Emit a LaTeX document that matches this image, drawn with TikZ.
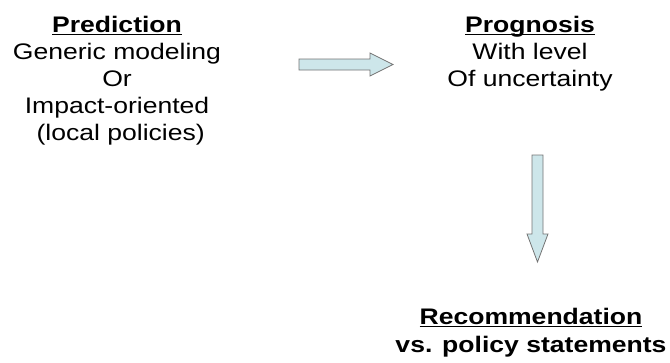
\documentclass[tikz,border=0pt]{standalone}
\usepackage{fontspec}
\setmainfont[FakeStretch=1.18]{Liberation Sans}
\newcommand{\ulbox}[1]{\underline{\raisebox{0pt}[\height][0pt]{#1}}}
\begin{document}
\begin{tikzpicture}[x=1pt,y=-1pt,
  blk/.style={align=center,inner sep=0pt,anchor=north,font=\fontsize{22.5}{27}\selectfont},
  blockarrow/.style={draw=black!55,fill=arrowfill,line width=0.8pt,line join=miter}]
\definecolor{arrowfill}{RGB}{205,230,234}
\useasboundingbox (0,0) rectangle (670,362);
\node[blk] (pred) at (117,16) {\textbf{\ulbox{Prediction}}\\Generic modeling\\Or\\Impact-oriented\\\ (local policies)};
\node[blk] (prog) at (530,16) {\textbf{\ulbox{Prognosis}}\\With level\\Of uncertainty};
\node[blk,font=\fontsize{22.5}{28}\selectfont] (rec) at (531,308) {\textbf{\ulbox{Recommendation}}\\\textbf{vs. policy statements}};
% right block arrow
\draw[blockarrow] (299,59) -- (370,59) -- (370,53) -- (393,64.5) -- (370,76) -- (370,70) -- (299,70) -- cycle;
% down block arrow
\draw[blockarrow] (532,155) -- (543,155) -- (543,234) -- (548,234) -- (537.5,262) -- (527,234) -- (532,234) -- cycle;
\end{tikzpicture}
\end{document}
